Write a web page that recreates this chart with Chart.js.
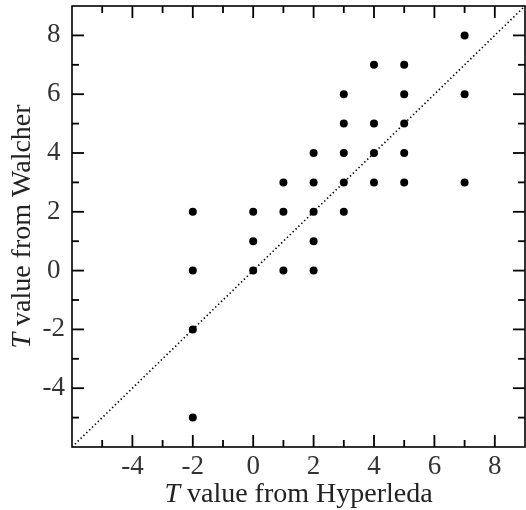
<!DOCTYPE html>
<html lang="en">
<head>
  <meta charset="UTF-8" />
  <title>T value: Hyperleda vs Walcher</title>
  <script src="https://cdn.jsdelivr.net/npm/chart.js"></script>
  <style>
    html, body { margin: 0; padding: 0; background: #fff; }
    #wrap { width: 526px; height: 510px; }
  </style>
</head>
<body>
  <div id="wrap">
    <canvas id="tChart" width="526" height="510"></canvas>
  </div>

  <script>
    // T values (x = Hyperleda, y = Walcher)
    const hyperleda = [-2, -2, -2, -2, 0, 0, 0, 1, 1, 1, 2, 2, 2, 2, 2, 3, 3, 3, 3, 3, 4, 4, 4, 4, 5, 5, 5, 5, 5, 7, 7, 7];
    const walcher   = [ 2,  0, -2, -5, 2, 1, 0, 3, 2, 0, 4, 3, 2, 1, 0, 6, 5, 4, 3, 2, 7, 5, 4, 3, 7, 6, 5, 4, 3, 8, 6, 3];

    const axisRange = [-6, 9];
    const majorTicks = [-4, -2, 0, 2, 4, 6, 8];
    const minorTicks = [-5, -3, -1, 1, 3, 5, 7];
    const oneToOne = [-6, 9];

    const xTitle = ['T', ' value from Hyperleda'];
    const yTitle = ['T', ' value from Walcher'];

    const serif = '"Liberation Serif", "DejaVu Serif", serif';

    // frame with inward ticks on all four sides
    const frameTicks = {
      id: 'frameTicks',
      afterDraw(chart) {
        const { ctx, chartArea: a, scales: { x, y } } = chart;
        ctx.save();
        ctx.strokeStyle = '#000';
        ctx.lineWidth = 1.6;
        ctx.strokeRect(a.left, a.top, a.right - a.left, a.bottom - a.top);
        ctx.lineWidth = 1.8;
        const seg = (x1, y1, x2, y2) => {
          ctx.beginPath();
          ctx.moveTo(x1, y1);
          ctx.lineTo(x2, y2);
          ctx.stroke();
        };
        const mark = (list, len) => {
          list.forEach(v => {
            const px = x.getPixelForValue(v);
            seg(px, a.bottom, px, a.bottom - len);
            seg(px, a.top, px, a.top + len);
            const py = y.getPixelForValue(v);
            seg(a.left, py, a.left + len, py);
            seg(a.right, py, a.right - len, py);
          });
        };
        mark(majorTicks, 12);
        mark(minorTicks, 7);
        ctx.restore();
      }
    };

    // axis titles with an italic T
    const axisTitles = {
      id: 'axisTitles',
      afterDraw(chart) {
        const { ctx, chartArea: a } = chart;
        const write = (parts, cx, cy, rotate) => {
          ctx.save();
          ctx.translate(cx, cy);
          if (rotate) ctx.rotate(-Math.PI / 2);
          ctx.fillStyle = '#222';
          ctx.textBaseline = 'alphabetic';
          ctx.textAlign = 'left';
          ctx.font = 'italic 28px ' + serif;
          const w1 = ctx.measureText(parts[0]).width;
          ctx.font = '28px ' + serif;
          const w2 = ctx.measureText(parts[1]).width;
          const start = -(w1 + w2) / 2;
          ctx.font = 'italic 28px ' + serif;
          ctx.fillText(parts[0], start, 0);
          ctx.font = '28px ' + serif;
          ctx.fillText(parts[1], start + w1, 0);
          ctx.restore();
        };
        write(xTitle, (a.left + a.right) / 2, 502, false);
        write(yTitle, 30, (a.top + a.bottom) / 2, true);
      }
    };

    const points = hyperleda.map((v, i) => ({ x: v, y: walcher[i] }));

    new Chart(document.getElementById('tChart'), {
      type: 'scatter',
      data: {
        datasets: [
          {
            label: 'galaxies',
            data: points,
            backgroundColor: '#000',
            borderWidth: 0,
            pointRadius: 4,
            pointHoverRadius: 4
          },
          {
            type: 'line',
            label: 'one to one',
            data: oneToOne.map(v => ({ x: v, y: v })),
            borderColor: '#000',
            borderWidth: 1.6,
            borderDash: [1.4, 2.6],
            pointRadius: 0,
            fill: false
          }
        ]
      },
      options: {
        responsive: false,
        animation: false,
        devicePixelRatio: 1,
        layout: { autoPadding: false, padding: { top: 6, right: 1, left: 0, bottom: 0 } },
        plugins: {
          legend: { display: false },
          tooltip: { enabled: false }
        },
        scales: {
          x: {
            type: 'linear',
            min: axisRange[0],
            max: axisRange[1],
            afterBuildTicks: s => { s.ticks = majorTicks.map(v => ({ value: v })); },
            afterFit: s => { s.height = 63; s.paddingLeft = 0; s.paddingRight = 0; },
            grid: { display: false, drawTicks: false },
            border: { display: false },
            ticks: {
              color: '#333',
              padding: 6,
              font: { family: serif, size: 27, lineHeight: 1 },
              maxRotation: 0
            },
            title: { display: false, text: xTitle.join('') }
          },
          y: {
            type: 'linear',
            min: axisRange[0],
            max: axisRange[1],
            afterBuildTicks: s => { s.ticks = majorTicks.map(v => ({ value: v })); },
            afterFit: s => { s.width = 72; s.paddingTop = 0; s.paddingBottom = 0; },
            grid: { display: false, drawTicks: false },
            border: { display: false },
            ticks: {
              color: '#333',
              padding: 7,
              crossAlign: 'center',
              font: { family: serif, size: 27, lineHeight: 1 }
            },
            title: { display: false, text: yTitle.join('') }
          }
        }
      },
      plugins: [frameTicks, axisTitles]
    });
  </script>
</body>
</html>
